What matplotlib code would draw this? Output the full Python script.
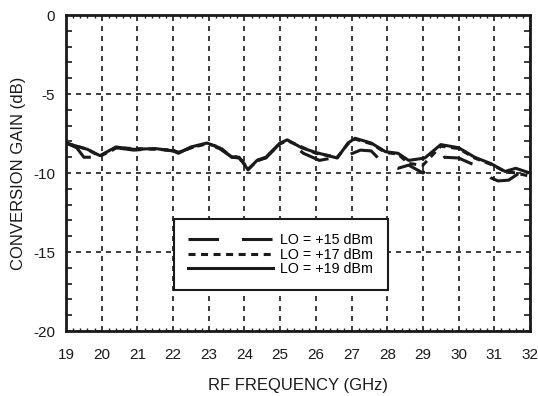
import numpy as np
import matplotlib
matplotlib.use('Agg')
import matplotlib.pyplot as plt
from matplotlib.ticker import MultipleLocator

plt.rcParams['font.family'] = ['Liberation Sans', 'DejaVu Sans']
plt.rcParams['axes.unicode_minus'] = False

# LO = +19 dBm (solid)
f19 = [19.0, 19.3, 19.6, 19.95, 20.4, 20.9, 21.5, 22.0, 22.15, 22.5, 22.95, 23.3,
       23.65, 23.85, 24.1, 24.35, 24.6, 25.0, 25.2, 25.6, 26.0, 26.6, 26.9, 27.1,
       27.55, 27.95, 28.3, 28.6, 29.05, 29.5, 30.0, 30.45, 30.9, 31.3, 31.6, 32.0]
g19 = [-8.1, -8.3, -8.5, -8.9, -8.35, -8.5, -8.45, -8.6, -8.75, -8.35, -8.1, -8.4,
       -9.0, -9.0, -9.8, -9.2, -9.0, -8.1, -7.9, -8.4, -8.7, -9.05, -8.1, -7.8,
       -8.1, -8.65, -8.75, -9.2, -9.05, -8.2, -8.4, -9.0, -9.4, -9.9, -9.7, -10.0]

# LO = +17 dBm (dotted)
f17 = [19.0, 19.3, 19.6, 19.95, 20.4, 20.9, 21.5, 22.0, 22.15, 22.5, 22.95, 23.3,
       23.65, 23.85, 24.1, 24.35, 24.6, 25.0, 25.2, 25.6, 26.0, 26.6, 26.9, 27.1,
       27.55, 27.95, 28.3, 28.6, 29.0, 29.5, 30.0, 30.45, 30.9, 31.3, 31.6, 32.0]
g17 = [-8.1, -8.3, -8.5, -8.95, -8.4, -8.45, -8.5, -8.55, -8.7, -8.4, -8.15, -8.35,
       -9.0, -8.95, -9.75, -9.25, -9.0, -8.15, -7.95, -8.35, -8.75, -9.0, -8.15, -7.85,
       -8.15, -8.7, -8.8, -9.4, -9.5, -8.3, -8.45, -9.05, -9.45, -9.9, -10.0, -10.2]

# LO = +15 dBm (long dash)
f15 = [19.0, 19.3, 19.5, 20.0, 20.4, 20.9, 21.5, 22.0, 22.15, 22.5, 22.95, 23.3,
       23.65, 23.85, 24.1, 24.35, 24.6, 25.0, 25.25, 25.65, 26.1, 26.45, 26.7, 27.25,
       27.55, 27.85, 28.3, 28.6, 29.0, 29.3, 29.6, 30.0, 30.35, 30.6, 30.9, 31.1,
       31.4, 31.7, 32.0]
g15 = [-8.1, -8.4, -9.0, -9.0, -8.4, -8.55, -8.45, -8.6, -8.7, -8.4, -8.2, -8.45,
       -9.0, -9.05, -9.75, -9.2, -9.05, -8.1, -8.0, -8.75, -9.2, -9.05, -9.05, -8.55,
       -8.6, -9.3, -9.7, -9.5, -10.0, -9.5, -9.0, -9.05, -9.4, -9.6, -10.3, -10.5,
       -10.45, -10.0, -10.1]

ink = '#1a1a1a'

fig = plt.figure(figsize=(5.38, 3.96), dpi=100)
ax = fig.add_axes([0.1227, 0.1641, 0.8625, 0.7979])

ax.plot(f15, g15, color=ink, lw=2.2, linestyle=(0, (10, 7.5)), label='LO = +15 dBm')
ax.plot(f17, g17, color=ink, lw=2.2, linestyle=(0, (2.3, 1.8)), label='LO = +17 dBm')
ax.plot(f19, g19, color=ink, lw=2.2, label='LO = +19 dBm')

ax.set_xlim(19, 32)
ax.set_ylim(-20, 0)
ax.xaxis.set_major_locator(MultipleLocator(1))
ax.xaxis.set_minor_locator(MultipleLocator(0.2))
ax.yaxis.set_major_locator(MultipleLocator(5))
ax.yaxis.set_minor_locator(MultipleLocator(1))
ax.tick_params(which='both', direction='in', top=True, right=True, labelsize=11, colors=ink)
ax.tick_params(which='major', length=0)
ax.tick_params(axis='x', which='major', pad=12.5)
ax.tick_params(axis='y', which='major', pad=8)
ax.tick_params(axis='x', which='minor', length=2.5, width=1)
ax.tick_params(axis='y', which='minor', length=4, width=1.2)

ax.grid(True, which='major', color=ink, linestyle=(0, (3, 3)), lw=1.2)
for sp in ax.spines.values():
    sp.set_linewidth(2)
    sp.set_color(ink)

ax.set_xlabel('RF FREQUENCY (GHz)', fontsize=12, labelpad=11, color=ink)
ax.set_ylabel('CONVERSION GAIN (dB)', fontsize=12, labelpad=5, color=ink)

leg = ax.legend(loc='center', bbox_to_anchor=(0.463, 0.242), fontsize=10.3, handlelength=5.9,
                labelspacing=0.02, handletextpad=0.55, borderpad=1.0, fancybox=False,
                framealpha=1, edgecolor=ink, borderaxespad=0)
leg.get_frame().set_linewidth(1.5)

fig.savefig('out.png', dpi=100)
